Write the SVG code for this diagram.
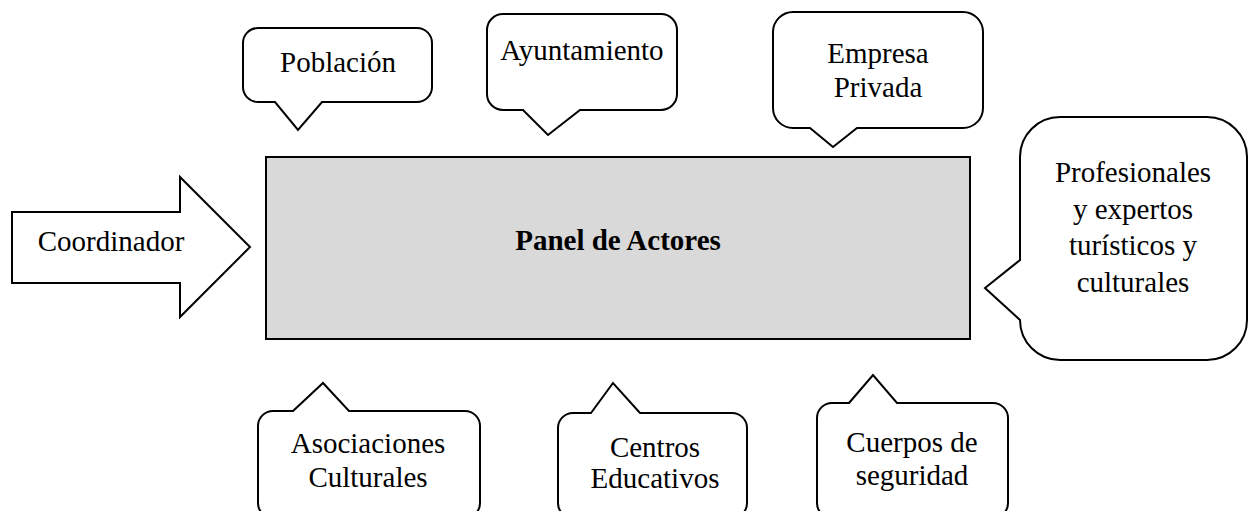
<svg xmlns="http://www.w3.org/2000/svg" width="1250" height="511" viewBox="0 0 1250 511">
<style>
.shape{fill:#ffffff;stroke:#000000;stroke-width:2;stroke-linejoin:miter}
.panel{fill:#d9d9d9;stroke:#000000;stroke-width:2}
.t{font-family:"Liberation Serif","Times New Roman",serif;font-size:29px;fill:#000000;text-anchor:middle}
.b{font-weight:bold}
</style>
<rect width="1250" height="511" fill="#ffffff"/>
<g id="connectors"></g>
<g id="panel">
<rect class="panel" x="266" y="157" width="704" height="182"/>
<text class="t b" x="618" y="250">Panel de Actores</text>
</g>
<g id="coordinador">
<polygon class="shape" points="12,212 180,212 180,177 250,247 180,317 180,283 12,283"/>
<text class="t" x="111" y="251">Coordinador</text>
</g>
<g id="poblacion">
<path class="shape" d="M258,28 H417 A15,15 0 0 1 432,43 V87 A15,15 0 0 1 417,102 H322 L298,130 L275,102 H258 A15,15 0 0 1 243,87 V43 A15,15 0 0 1 258,28 Z"/>
<text class="t" x="338" y="72">Población</text>
</g>
<g id="ayuntamiento">
<path class="shape" d="M503,14 H661 A16,16 0 0 1 677,30 V94 A16,16 0 0 1 661,110 H580 L548,135 L523,110 H503 A16,16 0 0 1 487,94 V30 A16,16 0 0 1 503,14 Z"/>
<text class="t" x="582" y="60">Ayuntamiento</text>
</g>
<g id="empresa">
<path class="shape" d="M793,12 H963 A20,20 0 0 1 983,32 V108 A20,20 0 0 1 963,128 H857 L833,147 L810,128 H793 A20,20 0 0 1 773,108 V32 A20,20 0 0 1 793,12 Z"/>
<text class="t" x="878" y="63">Empresa</text>
<text class="t" x="878" y="97">Privada</text>
</g>
<g id="profesionales">
<path class="shape" d="M1060,117 H1207 A40,40 0 0 1 1247,157 V320 A40,40 0 0 1 1207,360 H1060 A40,40 0 0 1 1020,320 L985,288 L1020,260 V157 A40,40 0 0 1 1060,117 Z"/>
<text class="t" x="1133" y="182">Profesionales</text>
<text class="t" x="1133" y="219">y expertos</text>
<text class="t" x="1133" y="255">turísticos y</text>
<text class="t" x="1133" y="292">culturales</text>
</g>
<g id="asociaciones">
<path class="shape" d="M293,411 L323,383 L349,411 H465 A15,15 0 0 1 480,426 V503 A15,15 0 0 1 465,518 H273 A15,15 0 0 1 258,503 V426 A15,15 0 0 1 273,411 Z"/>
<text class="t" x="368" y="453">Asociaciones</text>
<text class="t" x="368" y="487">Culturales</text>
</g>
<g id="centros">
<path class="shape" d="M591,413 L613,383 L640,413 H732 A15,15 0 0 1 747,428 V503 A15,15 0 0 1 732,518 H573 A15,15 0 0 1 558,503 V428 A15,15 0 0 1 573,413 Z"/>
<text class="t" x="655" y="457">Centros</text>
<text class="t" x="655" y="488">Educativos</text>
</g>
<g id="cuerpos">
<path class="shape" d="M849,403 L873,375 L897,403 H993 A15,15 0 0 1 1008,418 V503 A15,15 0 0 1 993,518 H832 A15,15 0 0 1 817,503 V418 A15,15 0 0 1 832,403 Z"/>
<text class="t" x="912" y="452">Cuerpos de</text>
<text class="t" x="912" y="485">seguridad</text>
</g>
</svg>
